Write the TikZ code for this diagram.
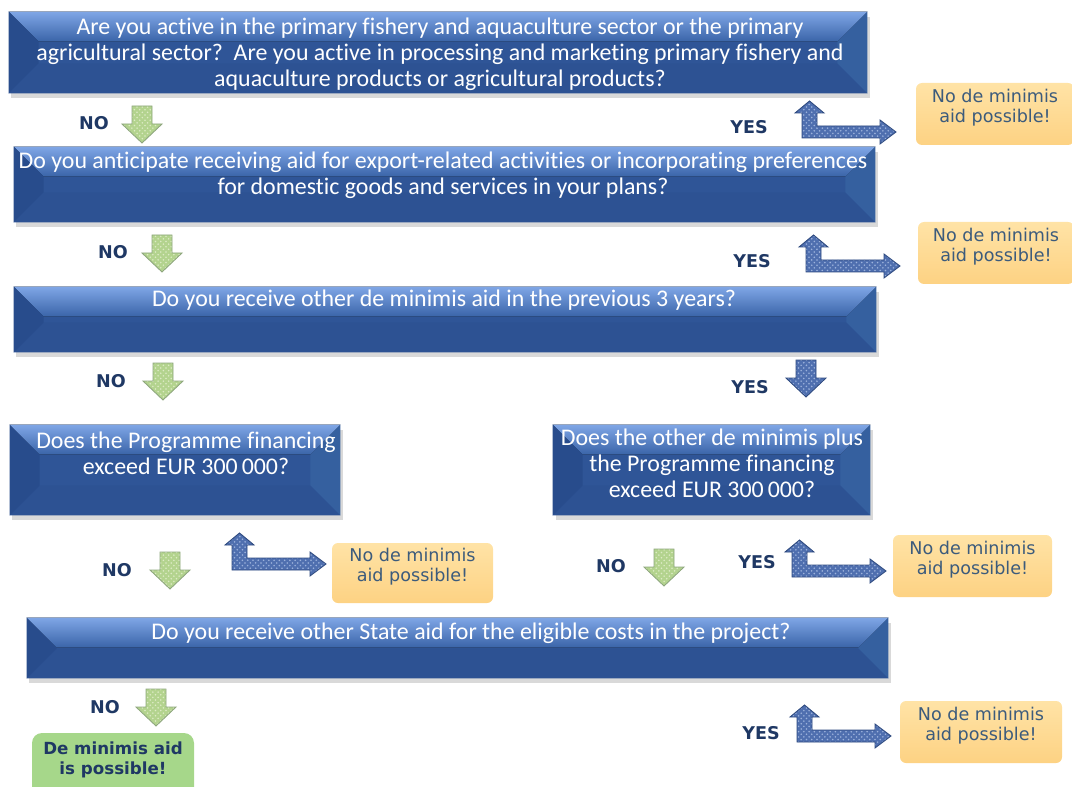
\documentclass[tikz,border=0pt]{standalone}
\usepackage{fontspec}
\setmainfont{Carlito}[Ligatures=NoCommon]
\newfontfamily\labelfont{DejaVu Sans}
\usetikzlibrary{positioning}
\usetikzlibrary{fit}
\usetikzlibrary{shadows}
\usetikzlibrary{patterns}

\begin{document}
\begin{tikzpicture}[x=0.02cm,y=-0.02cm,
    qbox/.style={inner sep=0pt, fill=qblue,
      drop shadow={shadow xshift=0.05cm, shadow yshift=-0.1cm, opacity=0.3}},
    qtext/.style={inner sep=0pt, text=white, align=center,
      font=\fontsize{13.6}{14.7}\selectfont},
    obox/.style={inner sep=0pt, rounded corners=0.12cm, top color=oTop,
      bottom color=oBot, text=oText, align=center,
      font=\labelfont\fontsize{10}{11.5}\selectfont},
    gbox/.style={inner sep=0pt, rounded corners=0.2cm, fill=gBox,
      text=labnavy, align=left,
      font=\labelfont\bfseries\fontsize{9.5}{11.5}\selectfont},
    lab/.style={inner sep=0pt, text=labnavy,
      font=\labelfont\bfseries\fontsize{10}{12}\selectfont},
    greenarrow/.style={draw=gEdge, line width=0.5pt, preaction={fill=gFill},
      pattern=crosshatch dots, pattern color=gDot},
    bluearrow/.style={draw=bEdge, line width=0.5pt, preaction={fill=bFill},
      pattern=crosshatch dots, pattern color=bDot},
    pics/downarrow/.style={code={
      \draw[#1] (-10,0) -- (10,0) -- (10,18) -- (20,18) -- (0,37)
        -- (-20,18) -- (-10,18) -- cycle;}},
    pics/bentarrow/.style={code={
      \draw[bluearrow] (0,0) -- (0,-25) -- (-7,-25) -- (7.5,-37) -- (22,-25)
        -- (15,-25) -- (15,-12) -- (78,-12) -- (78,-18) -- (94,-6)
        -- (78,6) -- (78,0) -- cycle;}}]
  \definecolor{qblue}{HTML}{2F5597}
  \definecolor{bevlight}{HTML}{7FA6E6}
  \definecolor{bevmid}{HTML}{3A64A8}
  \definecolor{bevdark}{HTML}{284C8C}
  \definecolor{bevright}{HTML}{35609F}
  \definecolor{bevbottom}{HTML}{2D5293}
  \definecolor{oTop}{HTML}{FFE3A6}
  \definecolor{oBot}{HTML}{FDD283}
  \definecolor{oText}{HTML}{3C5B7C}
  \definecolor{gBox}{HTML}{A6D78A}
  \definecolor{labnavy}{HTML}{1F3864}
  \definecolor{gFill}{HTML}{B3D38E}
  \definecolor{gDot}{HTML}{DDEBC5}
  \definecolor{gEdge}{HTML}{8EA67E}
  \definecolor{bFill}{HTML}{4F6FAF}
  \definecolor{bDot}{HTML}{9CB2DC}
  \definecolor{bEdge}{HTML}{2E4A7F}
  \useasboundingbox (0,0) rectangle (1072,787);
  \clip (0,0) rectangle (1072,787);

  % question boxes
  \node[qbox, fit={(9,12) (867,93)}] (q1) {};
  \node[qbox, fit={(14,147) (875,222)}] (q2) {};
  \node[qbox, fit={(14,287) (876,352)}] (q3) {};
  \node[qbox, fit={(10,425) (340,515)}] (q4) {};
  \node[qbox, fit={(553,425) (870,515)}] (q5) {};
  \node[qbox, fit={(27,618) (888,678)}] (q6) {};
  \def\bv{30}
  \foreach \b in {q1,q2,q3,q4,q5,q6} {
    \fill[bevbottom] (\b.south west) -- ([shift={(\bv,-\bv)}]\b.south west)
      -- ([shift={(-\bv,-\bv)}]\b.south east) -- (\b.south east) -- cycle;
    \fill[top color=bevlight, bottom color=bevmid] (\b.north west) -- (\b.north east)
      -- ([shift={(-\bv,\bv)}]\b.north east) -- ([shift={(\bv,\bv)}]\b.north west) -- cycle;
    \fill[bevdark] (\b.north west) -- ([shift={(\bv,\bv)}]\b.north west)
      -- ([shift={(\bv,-\bv)}]\b.south west) -- (\b.south west) -- cycle;
    \fill[bevright] (\b.north east) -- ([shift={(-\bv,\bv)}]\b.north east)
      -- ([shift={(-\bv,-\bv)}]\b.south east) -- (\b.south east) -- cycle;
  }
  \node[qtext] (t1) at (440,54) {Are you active in the primary fishery and aquaculture sector or the primary\\
    agricultural sector?~~Are you active in processing and marketing primary fishery and\\
    aquaculture products or agricultural products?};
  \node[qtext] (t2) at (443,175) {Do you anticipate receiving aid for export-related activities or incorporating preferences\\
    for domestic goods and services in your plans?};
  \node[qtext] (t3) at (444,300) {Do you receive other de minimis aid in the previous 3 years?};
  \node[qtext] (t4) at (186,453) {Does the Programme financing\\ exceed EUR 300\,000?};
  \node[qtext] (t5) at (712,463) {Does the other de minimis plus\\ the Programme financing\\ exceed EUR 300\,000?};
  \node[qtext] (t6) at (471,633) {Do you receive other State aid for the eligible costs in the project?};

  % outcome boxes
  \foreach \xa/\ya/\xb/\yb [count=\i] in {916/83/1074/145, 918/222/1074/284,
      332/543/493/603, 893/535/1052/597, 900/701/1062/763}
    \node[obox, fit={(\xa,\ya) (\xb,\yb)}] (o\i) {No de minimis\\ aid possible!};
  \node[gbox, fit={(32,733) (194,800)}] (g1) {De minimis aid\\ is possible!};

  % arrows
  \foreach \x/\y in {142/106, 162/235, 163/363, 170/552, 664/549, 156/689}
    \pic at (\x,\y) {downarrow=greenarrow};
  \pic at (806,360) {downarrow=bluearrow};
  \foreach \x/\y in {802/138, 806/272, 232/570, 792/577, 797/742}
    \pic at (\x,\y) {bentarrow};

  % labels
  \foreach \x/\y [count=\i] in {94/123, 113/252, 111/381, 117/570, 611/566, 105/707}
    \node[lab] (no\i) at (\x,\y) {NO};
  \foreach \x/\y [count=\i] in {749/127, 752/261, 750/387, 757/562, 761/733}
    \node[lab] (yes\i) at (\x,\y) {YES};
\end{tikzpicture}
\end{document}
